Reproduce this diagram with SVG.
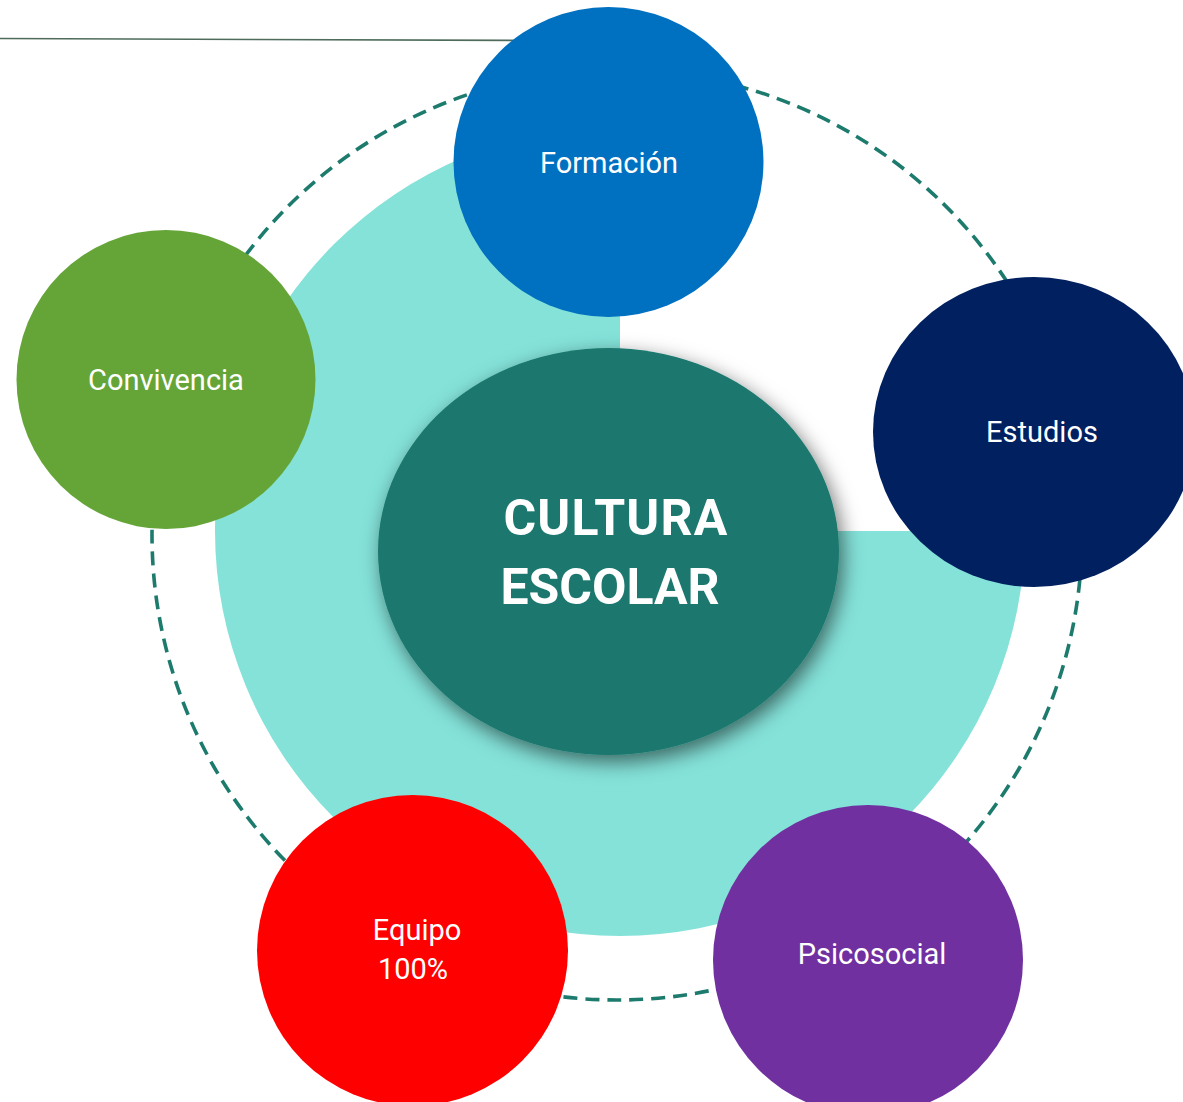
<svg xmlns="http://www.w3.org/2000/svg" width="1183" height="1102" viewBox="0 0 1183 1102">
  <defs>
    <filter id="shadow" x="-20%" y="-20%" width="140%" height="140%">
      <feDropShadow dx="4" dy="7" stdDeviation="10" flood-color="#000000" flood-opacity="0.55"/>
    </filter>
  </defs>
  <style>
    .lbl { font-family: Roboto, "Liberation Sans", sans-serif; font-size: 29px; fill: #ffffff; text-anchor: middle; }
    .main { font-family: Roboto, "Liberation Sans", sans-serif; font-size: 50px; font-weight: bold; fill: #ffffff; text-anchor: middle; }
    .ring { fill: none; stroke: #1D7B6E; stroke-width: 3.6; stroke-dasharray: 14 8; }
  </style>
  <rect width="1183" height="1102" fill="#ffffff"/>
  <g id="decor">
    <line x1="0" y1="38.5" x2="540" y2="40.5" stroke="#4E6B5C" stroke-width="1.6"/>
    <path id="pie" d="M620,531 L620,126 A405,405 0 1,0 1025,531 Z" fill="#84E2D9"/>
  </g>
  <g id="connectors">
    <circle class="ring" cx="617" cy="535" r="465"/>
  </g>
  <g id="center">
    <ellipse cx="608.5" cy="551.5" rx="230.5" ry="203.5" fill="#1C786E" filter="url(#shadow)"/>
    <text class="main" x="616" y="535" letter-spacing="1.2">CULTURA</text>
    <text class="main" x="610" y="604">ESCOLAR</text>
  </g>
  <g id="formacion">
    <circle cx="608.5" cy="162" r="155" fill="#0070C0"/>
    <text class="lbl" x="609" y="173">Formación</text>
  </g>
  <g id="convivencia">
    <circle cx="166" cy="379.5" r="149.5" fill="#65A538"/>
    <text class="lbl" x="166" y="390">Convivencia</text>
  </g>
  <g id="estudios">
    <ellipse cx="1034" cy="432" rx="161" ry="155" fill="#002060"/>
    <text class="lbl" x="1042" y="442">Estudios</text>
  </g>
  <g id="psicosocial">
    <circle cx="868" cy="960" r="155" fill="#7030A0"/>
    <text class="lbl" x="872" y="964">Psicosocial</text>
  </g>
  <g id="equipo">
    <circle cx="412.5" cy="950.5" r="155.5" fill="#FF0000"/>
    <text class="lbl" x="417" y="940">Equipo</text>
    <text class="lbl" x="413" y="979">100%</text>
  </g>
</svg>
